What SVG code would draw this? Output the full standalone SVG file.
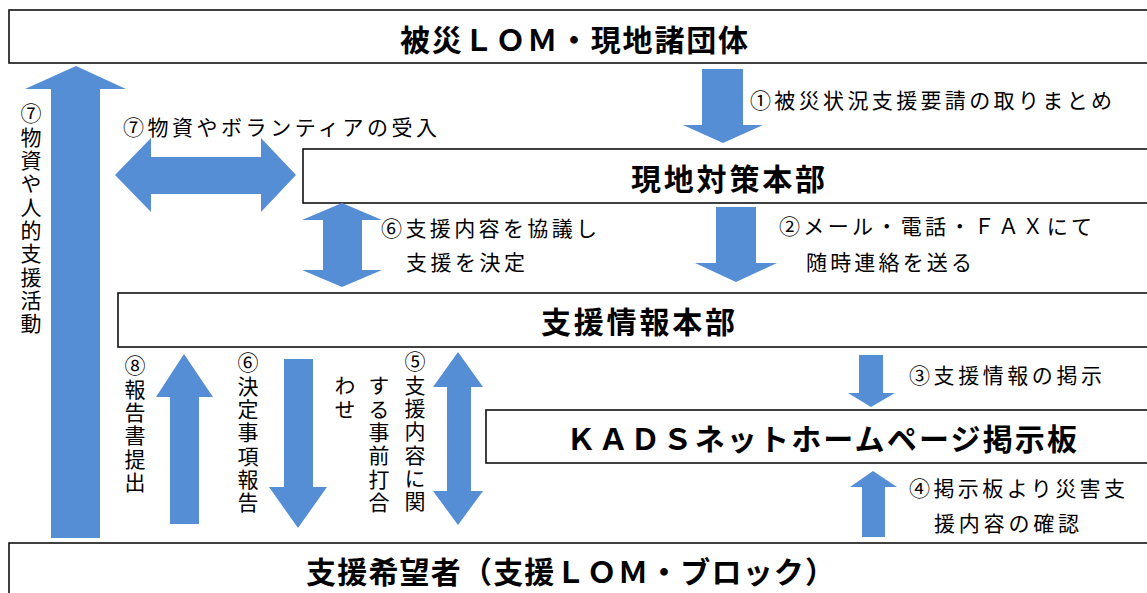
<svg xmlns="http://www.w3.org/2000/svg" width="1147" height="593" viewBox="0 0 1147 593">
<style>
.box{fill:#fff;stroke:#111;stroke-width:1.6}
.arr{fill:#558ED5;stroke:none}
.title{font-family:"Noto Sans CJK JP","Noto Sans CJK SC",sans-serif;font-weight:bold;font-size:30px;fill:#000}
.lbl{font-family:"Noto Sans CJK JP","Noto Sans CJK SC",sans-serif;font-size:21px;fill:#000}
.vert{font-family:"Noto Sans CJK JP","Noto Sans CJK SC",sans-serif;font-size:21px;letter-spacing:2.3px;fill:#000;writing-mode:vertical-rl}
</style>
<rect width="1147" height="593" fill="#fff"/>
<g id="node-hisai-lom">
<rect class="box" x="9" y="10" width="1160" height="53"/>
<text class="title" x="400" y="51" textLength="348" lengthAdjust="spacing">被災ＬＯＭ・現地諸団体</text>
</g>
<g id="node-genchi">
<rect class="box" x="303" y="149" width="870" height="54"/>
<text class="title" x="631" y="190" textLength="194" lengthAdjust="spacing">現地対策本部</text>
</g>
<g id="node-shien-joho">
<rect class="box" x="118" y="293" width="1060" height="54"/>
<text class="title" x="541" y="333" textLength="194" lengthAdjust="spacing">支援情報本部</text>
</g>
<g id="node-kads">
<rect class="box" x="486" y="410" width="690" height="53"/>
<text class="title" x="566" y="450" textLength="511" lengthAdjust="spacing">ＫＡＤＳネットホームページ掲示板</text>
</g>
<g id="node-kibosha">
<rect class="box" x="9" y="543" width="1160" height="70"/>
<text class="title" x="306" y="583" textLength="529" lengthAdjust="spacing">支援希望者（支援ＬＯＭ・ブロック）</text>
</g>
<g id="connectors">
<polygon class="arr" points="51,538 51,89 25,89 76,66 126,89 100,89 100,538"/>
<polygon class="arr" points="115,175 151,138 151,157 261,157 261,138 296,175 261,212 261,194 151,194 151,212"/>
<polygon class="arr" points="342,203 382,220 362,220 362,270 382,270 342,287 302,270 323,270 323,220 302,220"/>
<polygon class="arr" points="702,69 743,69 743,125 763,125 723,143 683,125 702,125"/>
<polygon class="arr" points="716,207 756,207 756,263 777,263 736,282 695,263 716,263"/>
<polygon class="arr" points="859,355 883,355 883,393 895,393 871,407 848,393 859,393"/>
<polygon class="arr" points="862,537 862,487 850,487 873,471 897,487 885,487 885,537"/>
<polygon class="arr" points="170,524 170,397 156,397 184,354 213,397 199,397 199,524"/>
<polygon class="arr" points="284,359 313,359 313,487 327,487 298,528 269,487 284,487"/>
<polygon class="arr" points="458,352 483,387 471,387 471,491 483,491 458,525 433,491 447,491 447,387 433,387"/>
</g>
<g id="labels">
<text class="lbl" x="750" y="108" textLength="362" lengthAdjust="spacing">①被災状況支援要請の取りまとめ</text>
<text class="lbl" x="123" y="135" textLength="314" lengthAdjust="spacing">⑦物資やボランティアの受入</text>
<text class="lbl" x="381" y="236" textLength="216" lengthAdjust="spacing">⑥支援内容を協議し</text>
<text class="lbl" x="406" y="270" textLength="119" lengthAdjust="spacing">支援を決定</text>
<text class="lbl" x="779" y="234" textLength="313" lengthAdjust="spacing">②メール・電話・ＦＡＸにて</text>
<text class="lbl" x="806" y="270" textLength="166" lengthAdjust="spacing">随時連絡を送る</text>
<text class="lbl" x="909" y="383" textLength="193" lengthAdjust="spacing">③支援情報の掲示</text>
<text class="lbl" x="909" y="496" textLength="216" lengthAdjust="spacing">④掲示板より災害支</text>
<text class="lbl" x="934" y="531" textLength="145" lengthAdjust="spacing">援内容の確認</text>
<text class="vert" x="31" y="103">⑦物資や人的支援活動</text>
<text class="vert" x="135" y="355">⑧報告書提出</text>
<text class="vert" x="248" y="352">⑥決定事項報告</text>
<text class="vert" x="415" y="351">⑤支援内容に関</text>
<text class="vert" x="379" y="375">する事前打合</text>
<text class="vert" x="345" y="375">わせ</text>
</g>
</svg>
